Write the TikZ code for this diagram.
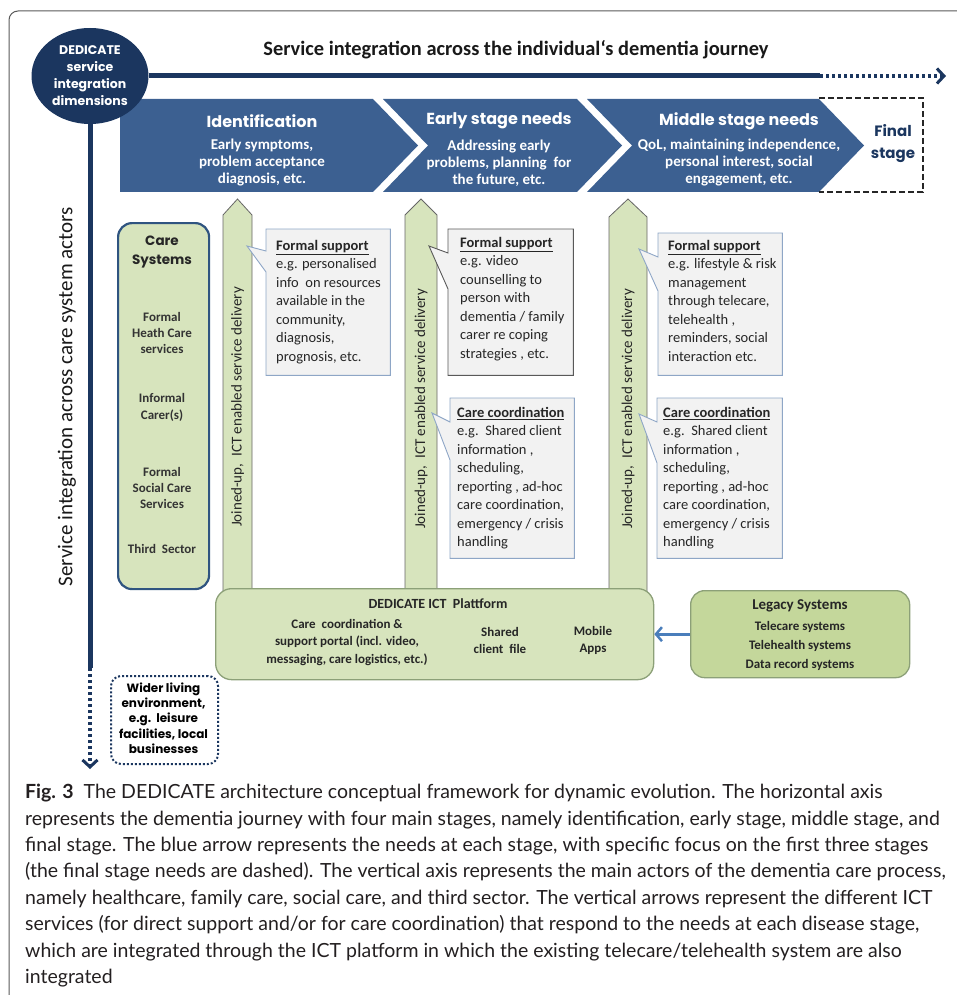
\documentclass[tikz,border=0pt]{standalone}
\usepackage{fontspec}
\setmainfont{Carlito}
\newfontfamily\gothic{Poppins}
\newfontfamily\capfont{Lato}
\usetikzlibrary{shapes.geometric,arrows.meta,calc}
\pgfdeclarelayer{bg}
\pgfsetlayers{bg,main}
\definecolor{navy}{RGB}{27,54,95}
\definecolor{band}{RGB}{60,96,145}
\definecolor{lgreen}{RGB}{215,228,189}
\definecolor{dgreen}{RGB}{196,215,155}
\definecolor{cfill}{RGB}{242,242,242}
\definecolor{cborder}{RGB}{142,166,198}
\definecolor{boxblue}{RGB}{47,84,128}
\definecolor{legarrow}{RGB}{74,126,187}
\definecolor{captext}{RGB}{35,31,32}
\definecolor{platborder}{RGB}{140,160,120}
\begin{document}
\begin{tikzpicture}[x=1pt,y=-1pt,
  bandhead/.style={text=white, font=\gothic\bfseries\fontsize{16}{18}\selectfont},
  banddesc/.style={text=white, align=center, font=\bfseries\fontsize{15}{17}\selectfont},
  garrow/.style={fill=lgreen, draw=black!60, line width=0.8},
  gtext/.style={rotate=90, font=\fontsize{15}{16}\selectfont, text=black!85},
  cbox/.style={fill=cfill, draw=cborder, line width=0.9},
  ctext/.style={anchor=north west, inner sep=0, align=left, text=black!85, font=\fontsize{14.5}{18.5}\selectfont},
  cstext/.style={align=center, text=black!80, font=\bfseries\fontsize{13}{16.3}\selectfont},
  axis/.style={navy, line width=5},
  daxis/.style={navy, line width=4, dash pattern=on 3pt off 3pt},
  ptext/.style={align=center, text=black!85, font=\bfseries\fontsize{13}{17.5}\selectfont}
]
\useasboundingbox (0,0) rectangle (956,995);
% frame
\draw[black!65, line width=1, rounded corners=9] (957,11) -- (9,11) -- (9,996);

% title
\node[font=\bfseries\fontsize{20.4}{23}\selectfont, text=black!90] (title) at (516,50) {Service integration across the individual‘s dementia journey};

% band segments
\fill[band] (120,99) -- (373,99) -- (418,145.5) -- (373,192) -- (120,192) -- cycle;
\fill[band] (383,99) -- (577,99) -- (622,145.5) -- (577,192) -- (383,192) -- (428,145.5) -- cycle;
\fill[band] (587,99) -- (819,99) -- (864,145.5) -- (819,192) -- (587,192) -- (632,145.5) -- cycle;
\draw[black!85, line width=2, dash pattern=on 6pt off 3pt] (819,98) -- (923,98) -- (923,192) -- (819,192);

\node[bandhead] (ident) at (262,121) {Identification};
\node[banddesc] (identd) at (262,163) {Early symptoms,\\problem acceptance\\diagnosis, etc.};
\node[bandhead] (early) at (499,121) {Early stage needs};
\node[banddesc] (earlyd) at (499,163) {Addressing early\\problems, planning\ \ for\\the future, etc.};
\node[bandhead] (middle) at (739,121) {Middle stage needs};
\node[banddesc] (middled) at (739,163) {QoL, maintaining independence,\\personal interest, social\\engagement, etc.};
\node[align=center, text=navy, font=\gothic\bfseries\fontsize{15}{22}\selectfont] (final) at (893,144) {Final\\stage};

% ellipse and axes
\node[ellipse, fill=navy, minimum width=117, minimum height=96, inner sep=0, text=white, align=center, font=\gothic\bfseries\fontsize{12.5}{17}\selectfont] (dim) at (90,76) {DEDICATE\\service\\integration\\dimensions};
\coordinate (hsplit) at (820,76);
\coordinate (hend) at (946,76);
\coordinate (vsplit) at (90,668);
\coordinate (vend) at (90,769);
\draw[axis] (dim.east) -- (hsplit);
\draw[daxis, -{Straight Barb[length=7pt,width=15pt,line width=3pt]}] (hsplit) -- (hend);
\draw[axis] (dim.south) -- (vsplit);
\draw[daxis, -{Straight Barb[length=7pt,width=15pt,line width=3pt]}] (vsplit) -- (vend);
\node[rotate=90, font=\fontsize{21}{24}\selectfont, text=black!90] (vtitle) at (67,397) {Service integration across care system actors};

% green arrows
\draw[garrow] (223,595) -- (223,215) -- (237.5,199) -- (252,215) -- (252,595);
\draw[garrow] (405,595) -- (405,215) -- (421,199) -- (437,215) -- (437,595);
\draw[garrow] (609,595) -- (609,217) -- (628,199) -- (647,217) -- (647,595);
\node[gtext] (j1) at (237.5,407) {Joined-up,\ \ ICT enabled service delivery};
\node[gtext] (j2) at (421,409) {Joined-up,\ \ ICT enabled service delivery};
\node[gtext] (j3) at (628,409) {Joined-up,\ \ ICT enabled service delivery};

% care systems
\node[draw=boxblue, line width=2.2, fill=lgreen, rounded corners=14, minimum width=91, minimum height=366, anchor=north west, inner sep=0] (cs) at (117,222) {};
\node[align=center, text=black!85, font=\gothic\bfseries\fontsize{13.5}{19}\selectfont] (cshead) at (162,252) {Care\\Systems};
\node[cstext] (cs1) at (162,333) {Formal\\Heath Care\\services};
\node[cstext] (cs2) at (162,407.5) {Informal\\Carer(s)};
\node[cstext] (cs3) at (162,488) {Formal\\Social Care\\Services};
\node[cstext] (cs4) at (162,549) {Third\ \ Sector};

% callouts
\node[minimum width=124, minimum height=146, anchor=north west, inner sep=0] (fs1) at (266,229) {};
\node[minimum width=125, minimum height=146, anchor=north west, inner sep=0] (fs2) at (448,229) {};
\node[minimum width=124, minimum height=142, anchor=north west, inner sep=0] (fs3) at (658,233) {};
\node[minimum width=124, minimum height=160, anchor=north west, inner sep=0] (cc2) at (450,398) {};
\node[minimum width=125, minimum height=160, anchor=north west, inner sep=0] (cc3) at (657,398) {};
\coordinate (t1) at (247,246);
\coordinate (t2) at (429,246);
\coordinate (t3) at (639,249);
\coordinate (t4) at (432,413);
\coordinate (t5) at (639,414);
\draw[cbox] (fs1.north west) -- (fs1.north east) -- (fs1.south east) -- (fs1.south west) -- ($(fs1.north west)+(0,43)$) -- (t1) -- ($(fs1.north west)+(0,22)$) -- cycle;
\draw[cbox, draw=black!65] (fs2.north west) -- (fs2.north east) -- (fs2.south east) -- (fs2.south west) -- ($(fs2.north west)+(0,60)$) -- (t2) -- ($(fs2.north west)+(0,24)$) -- cycle;
\draw[cbox] (fs3.north west) -- (fs3.north east) -- (fs3.south east) -- (fs3.south west) -- ($(fs3.north west)+(0,58)$) -- (t3) -- ($(fs3.north west)+(0,24)$) -- cycle;
\draw[cbox] (cc2.north west) -- (cc2.north east) -- (cc2.south east) -- (cc2.south west) -- ($(cc2.north west)+(0,62)$) -- (t4) -- ($(cc2.north west)+(0,24)$) -- cycle;
\draw[cbox] (cc3.north west) -- (cc3.north east) -- (cc3.south east) -- (cc3.south west) -- ($(cc3.north west)+(0,65)$) -- (t5) -- ($(cc3.north west)+(0,24)$) -- cycle;

\node[ctext] (fs1t) at (276,240) {\textbf{\underline{Formal support}}\\ e.g. personalised\\info\ \ on resources\\available in the\\community,\\diagnosis,\\prognosis, etc.};
\node[ctext] (fs2t) at (460,237) {\textbf{\underline{Formal support}}\\e.g. video\\counselling to\\person with\\dementia / family\\carer re coping\\strategies , etc.};
\node[ctext] (fs3t) at (668,240) {\textbf{\underline{Formal support}}\\e.g. lifestyle \& risk\\management\\through telecare,\\telehealth ,\\reminders, social\\interaction etc.};
\node[ctext] (cc2t) at (457,407) {\textbf{\underline{Care coordination}}\\e.g.\ \ Shared client\\information ,\\scheduling,\\reporting , ad-hoc\\care coordination,\\emergency / crisis\\handling};
\node[ctext] (cc3t) at (663,407) {\textbf{\underline{Care coordination}}\\e.g.\ \ Shared client\\information ,\\scheduling,\\reporting , ad-hoc\\care coordination,\\emergency / crisis\\handling};

% platform
\node[draw=platborder, line width=1.3, fill=lgreen, rounded corners=16, minimum width=438, minimum height=91, anchor=north west, inner sep=0] (plat) at (215,588) {};
\node[ptext, font=\bfseries\fontsize{14}{17}\selectfont] (plathead) at (438,604) {DEDICATE ICT\ \ Plattform};
\node[ptext] (portal) at (347,642.5) {Care\ \ coordination \&\\support portal (incl. video,\\messaging, care logistics, etc.)};
\node[ptext] (shared) at (500,640.5) {Shared\\client\ \ file};
\node[ptext] (mobile) at (593,640.5) {Mobile\\Apps};

% legacy
\node[draw=platborder, line width=1.3, fill=dgreen, rounded corners=14, minimum width=219, minimum height=87, anchor=north west, inner sep=0] (leg) at (690,590) {};
\node[ptext, font=\bfseries\fontsize{15}{18}\selectfont] (leghead) at (800,606) {Legacy Systems};
\node[ptext, font=\bfseries\fontsize{13}{19}\selectfont] (legbody) at (800,645.5) {Telecare systems\\Telehealth systems\\Data record systems};
\draw[legarrow, line width=3, -{Straight Barb[length=6pt,width=14pt,line width=2.5pt]}] (leg.west) -- (plat.east);

% wider living environment
\node[draw=navy, line width=2, dash pattern=on 2pt off 2pt, rounded corners=10, minimum width=107, minimum height=88, anchor=north west, inner sep=0] (wider) at (110,675) {};
\node[align=center, text=black, font=\gothic\bfseries\fontsize{12}{15.25}\selectfont] (widert) at (163.5,718) {Wider living\\environment,\\e.g.\ \ leisure\\facilities, local\\businesses};

% caption
\node[anchor=north west, inner sep=0, align=left, text=captext, font=\capfont\fontsize{19.5}{26.4}\selectfont] (caption) at (25,784) {\textbf{Fig. 3}\ \ The DEDICATE architecture conceptual framework for dynamic evolution. The horizontal axis\\represents the dementia journey with four main stages, namely identification, early stage, middle stage, and\\final stage. The blue arrow represents the needs at each stage, with specific focus on the first three stages\\(the final stage needs are dashed). The vertical axis represents the main actors of the dementia care process,\\namely healthcare, family care, social care, and third sector. The vertical arrows represent the different ICT\\services (for direct support and/or for care coordination) that respond to the needs at each disease stage,\\which are integrated through the ICT platform in which the existing telecare/telehealth system are also\\integrated};
\end{tikzpicture}
\end{document}
